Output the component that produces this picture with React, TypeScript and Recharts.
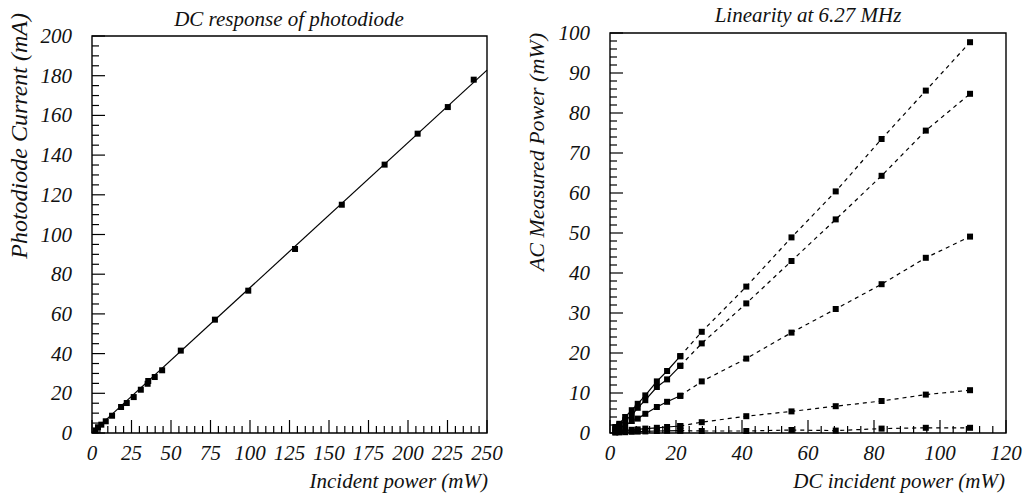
import React from "react";
import { ComposedChart, Line, Scatter, XAxis, YAxis, ReferenceArea } from "recharts";

// left panel: DC response
const incidentPower = [2.3, 3.8, 5.9, 8.7, 12.7, 18.4, 22, 26.4, 30.9, 35.2, 35.6, 39.7, 44.4, 56.2, 77.8, 98.9, 128.5, 158.1, 185.2, 206.1, 225.2, 241.6];
const photoCurrent = [1.3, 2.9, 4.2, 5.9, 8.7, 13.1, 15.1, 18.1, 21.8, 24.8, 26.2, 28.2, 31.6, 41.5, 57.1, 71.7, 92.7, 115, 135.2, 150.8, 164.2, 178];
const fitPower = [0, 250];
const fitCurrent = [0.2, 182.8];
const leftXMajor = [0, 25, 50, 75, 100, 125, 150, 175, 200, 225, 250];
const leftYMajor = [0, 20, 40, 60, 80, 100, 120, 140, 160, 180, 200];

// right panel: linearity at 6.27 MHz
const dcPower = [1.6, 2.8, 4.6, 6.6, 8.4, 10.7, 14.2, 17.3, 21.3, 27.8, 41.3, 55.0, 68.4, 82.3, 95.7, 109.1];
const acSeriesA = [1.5, 2.3, 4.0, 5.7, 7.3, 9.4, 12.9, 15.5, 19.2, 25.3, 36.6, 48.9, 60.4, 73.5, 85.6, 97.7];
const acSeriesB = [1.2, 1.9, 3.2, 4.4, 6.3, 8.2, 11.5, 13.4, 16.8, 22.4, 32.4, 43.0, 53.4, 64.3, 75.6, 84.8];
const acSeriesC = [0.8, 1.3, 1.9, 3.0, 3.6, 4.8, 6.5, 7.8, 9.3, 12.9, 18.6, 25.1, 31.0, 37.2, 43.8, 49.1];
const acSeriesD = [0.3, 0.4, 0.6, 0.8, 0.9, 1.1, 1.3, 1.5, 1.75, 2.7, 4.2, 5.4, 6.7, 8.0, 9.6, 10.7];
const acSeriesE = [0.1, 0.15, 0.2, 0.3, 0.35, 0.4, 0.5, 0.55, 0.6, 0.5, 0.5, 0.75, 0.6, 1.1, 1.3, 1.3];
const rightXMajor = [0, 20, 40, 60, 80, 100, 120];
const rightYMajor = [0, 10, 20, 30, 40, 50, 60, 70, 80, 90, 100];

const FONT = "Liberation Serif";
const textStyle = { fontFamily: FONT, fontStyle: "italic" as const, fill: "#111" };

const steps = (max: number, step: number) => {
  const out: number[] = [];
  for (let v = 0; v <= max; v += step) out.push(v);
  return out;
};

const xTick = (majors: number[]) => (p: any) => {
  const { x, y, payload } = p;
  const major = majors.includes(payload.value);
  return (
    <g>
      <line x1={x} y1={y} x2={x} y2={y - (major ? 13 : 7)} stroke="#000" strokeWidth={1.2} />
      {major && (
        <text x={x} y={y + 27} textAnchor="middle" style={{ ...textStyle, fontSize: 21 }}>
          {payload.value}
        </text>
      )}
    </g>
  );
};

const yTick = (majors: number[]) => (p: any) => {
  const { x, y, payload } = p;
  const major = majors.includes(payload.value);
  return (
    <g>
      <line x1={x} y1={y} x2={x + (major ? 13 : 7)} y2={y} stroke="#000" strokeWidth={1.2} />
      {major && (
        <text x={x - 20} y={y + 7} textAnchor="end" style={{ ...textStyle, fontSize: 21 }}>
          {payload.value}
        </text>
      )}
    </g>
  );
};

const square = (size: number) => (p: any) => (
  <rect key={p.key ?? p.index} x={p.cx - size / 2} y={p.cy - size / 2} width={size} height={size} fill="#000" />
);

const pts = (xs: number[], ys: number[]) => xs.map((x, i) => ({ x, y: ys[i] }));

const acSeries = [acSeriesA, acSeriesB, acSeriesC, acSeriesD, acSeriesE];
const SPLIT = 8; // index of 21.3 mW: solid below, dashed above

export default function App() {
  const dcData = pts(incidentPower, photoCurrent);
  const fitData = pts(fitPower, fitCurrent);

  return (
    <div style={{ position: "absolute", left: 0, top: 0, width: 1025, height: 493, background: "#fff" }}>
      <div style={{ position: "absolute", left: 0, top: 0 }}>
        <ComposedChart width={512} height={493} margin={{ top: 36, right: 25, bottom: 0, left: 32 }}>
          <XAxis
            type="number"
            dataKey="x"
            domain={[0, 250]}
            ticks={steps(250, 5)}
            interval={0}
            tickSize={0}
            tickMargin={0}
            axisLine={false}
            tickLine={false}
            height={60}
            tick={xTick(leftXMajor)}
          />
          <YAxis
            type="number"
            dataKey="y"
            domain={[0, 200]}
            ticks={steps(200, 5)}
            interval={0}
            tickSize={0}
            tickMargin={0}
            axisLine={false}
            tickLine={false}
            width={60}
            tick={yTick(leftYMajor)}
          />
          <ReferenceArea x1={0} x2={250} y1={0} y2={200} fill="none" stroke="#000" strokeWidth={1.4} ifOverflow="visible" />
          <Line data={fitData} dataKey="y" type="linear" stroke="#000" strokeWidth={1.2} dot={false} isAnimationActive={false} />
          <Scatter data={dcData} dataKey="y" shape={square(6)} isAnimationActive={false} />
        </ComposedChart>
      </div>

      <div style={{ position: "absolute", left: 512, top: 0 }}>
        <ComposedChart width={513} height={493} margin={{ top: 33, right: 19, bottom: 0, left: 38 }}>
          <XAxis
            type="number"
            dataKey="x"
            domain={[0, 120]}
            ticks={steps(120, 4)}
            interval={0}
            tickSize={0}
            tickMargin={0}
            axisLine={false}
            tickLine={false}
            height={60}
            tick={xTick(rightXMajor)}
          />
          <YAxis
            type="number"
            dataKey="y"
            domain={[0, 100]}
            ticks={steps(100, 2)}
            interval={0}
            tickSize={0}
            tickMargin={0}
            axisLine={false}
            tickLine={false}
            width={60}
            tick={yTick(rightYMajor)}
          />
          <ReferenceArea x1={0} x2={120} y1={0} y2={100} fill="none" stroke="#000" strokeWidth={1.4} ifOverflow="visible" />
          {acSeries.map((ys, k) => {
            const all = pts(dcPower, ys);
            return (
              <React.Fragment key={k}>
                <Line
                  data={all.slice(0, SPLIT + 1)}
                  dataKey="y"
                  type="linear"
                  stroke="#000"
                  strokeWidth={1.2}
                  dot={square(6)}
                  isAnimationActive={false}
                />
                <Line
                  data={all.slice(SPLIT)}
                  dataKey="y"
                  type="linear"
                  stroke="#000"
                  strokeWidth={1.2}
                  strokeDasharray="4 4"
                  dot={square(6)}
                  isAnimationActive={false}
                />
              </React.Fragment>
            );
          })}
        </ComposedChart>
      </div>

      <svg width={1025} height={493} style={{ position: "absolute", left: 0, top: 0, pointerEvents: "none" }}>
        <text x={289} y={26} textAnchor="middle" style={{ ...textStyle, fontSize: 21 }}>DC response of photodiode</text>
        <text x={488} y={488} textAnchor="end" style={{ ...textStyle, fontSize: 21 }}>Incident power (mW)</text>
        <text x={27} y={13} textAnchor="end" style={{ ...textStyle, fontSize: 24 }} transform="rotate(-90 27 13)">Photodiode Current (mA)</text>
        <text x={808} y={22} textAnchor="middle" style={{ ...textStyle, fontSize: 21 }}>Linearity at 6.27 MHz</text>
        <text x={1005} y={488} textAnchor="end" style={{ ...textStyle, fontSize: 21 }}>DC incident power (mW)</text>
        <text x={544} y={33} textAnchor="end" style={{ ...textStyle, fontSize: 22 }} transform="rotate(-90 544 33)">AC Measured Power (mW)</text>
      </svg>
    </div>
  );
}
